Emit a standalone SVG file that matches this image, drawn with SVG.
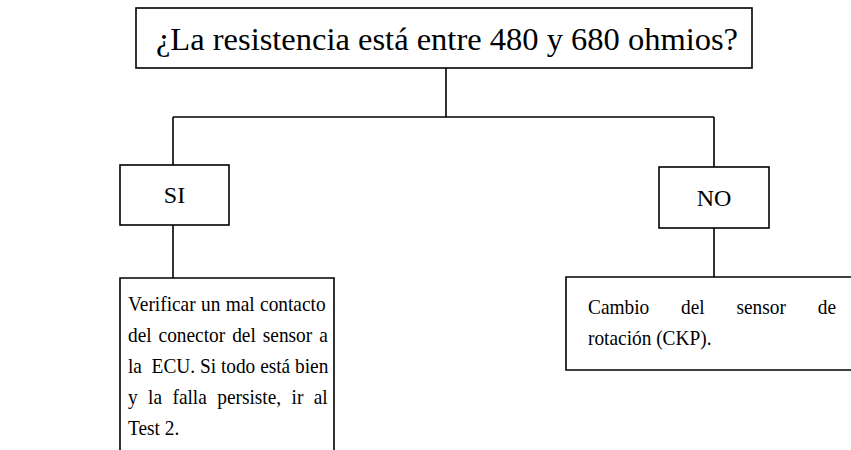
<svg xmlns="http://www.w3.org/2000/svg" width="851" height="450" viewBox="0 0 851 450">
<style>
.box{fill:#fff;stroke:#000;stroke-width:1.6}
.ln{fill:none;stroke:#000;stroke-width:1.6}
.t{font-family:"Liberation Serif","Times New Roman",serif;fill:#000}
.title{font-size:32.5px;text-anchor:middle}
.lbl{font-size:24px;text-anchor:middle}
.body{font-size:21.5px}
</style>
<rect width="851" height="450" fill="#fff"/>
<g id="connectors">
<path class="ln" d="M446,68 V117 M173,117 H714 M173,117 V165 M714,117 V167 M173,225 V278 M714,228 V277"/>
</g>
<g id="question">
<rect class="box" x="136" y="8" width="616" height="60"/>
<text class="t title" x="447" y="50">¿La resistencia está entre 480 y 680 ohmios?</text>
</g>
<g id="si">
<rect class="box" x="120" y="165" width="109" height="60"/>
<text class="t lbl" x="174.5" y="203">SI</text>
</g>
<g id="no">
<rect class="box" x="659" y="167" width="110" height="61"/>
<text class="t lbl" x="714" y="206">NO</text>
</g>
<g id="si-action">
<path class="box" d="M120,452 V278 H334 V452"/>
<text class="t body" transform="translate(128,311) scale(0.9,1)" word-spacing="0.6">Verificar un mal contacto</text>
<text class="t body" transform="translate(128,342) scale(0.9,1)" word-spacing="2.4">del conector del sensor a</text>
<text class="t body" transform="translate(128,373) scale(0.9,1)" xml:space="preserve">la  ECU. Si todo está bien</text>
<text class="t body" transform="translate(128,404) scale(0.9,1)" word-spacing="6.2">y la falla persiste, ir al</text>
<text class="t body" transform="translate(128,435) scale(0.9,1)">Test 2.</text>
</g>
<g id="no-action">
<path class="box" d="M853,277 H566 V370 H853"/>
<text class="t body" transform="translate(588,314) scale(0.9,1)" word-spacing="30">Cambio del sensor de</text>
<text class="t body" transform="translate(588,345) scale(0.9,1)">rotación (CKP).</text>
</g>
</svg>
